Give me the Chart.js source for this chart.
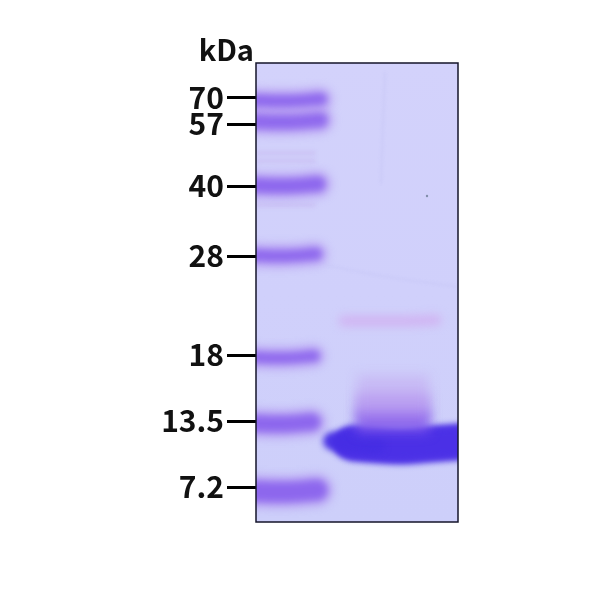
<!DOCTYPE html>
<html>
<head>
<meta charset="utf-8">
<title>SDS-PAGE gel</title>
<script src="https://cdn.jsdelivr.net/npm/chart.js@4"></script>
<style>
  html, body { margin: 0; background: #ffffff; }
  canvas { display: block; }
</style>
</head>
<body>
<canvas id="gelChart" width="600" height="595"></canvas>
<script>
// Marker ladder (travel = distance from the top of the gel)
const unitLabel = 'kDa';
const markerLabels = ['70', '57', '40', '28', '18', '13.5', '7.2'];
const markerTickTravel = [34.5, 61, 123, 193, 292, 358, 424];
const ladderTravel = [37, 58, 122, 192, 294, 360, 428];
const ladderEnd = [65, 64, 62, 60, 58, 56, 61];
const ladderStrength = [1, 0.95, 1, 1, 1, 1, 1];
const ladderThickness = [9, 12, 12, 9, 8, 14, 18];
const faintLadderTravel = [90, 98, 142];

// Sample lane
const mainBandX = [98, 125, 150, 175, 215];
const mainBandTravel = [380, 382, 383, 381, 378];
const mainTipX = [76, 95, 120];
const mainTipTravel = [378, 380, 382];
const upperBandX = [88, 120, 150, 180];
const upperBandTravel = [258, 258, 258, 257];
const smearX = [101, 135, 173];
const smearLevels = [330, 345, 358];

// Gel blemishes
const streakX = [70, 120, 202];
const streakTravel = [202, 212, 224];
const scratchX = [129, 127, 125];
const scratchTravel = [10, 60, 120];
const speckX = [171];
const speckTravel = [133];

function line(xs, ys, color, width, blur, extra) {
  return Object.assign({
    data: xs.map((x, i) => ({ x, y: ys[i] })),
    showLine: true,
    pointRadius: 0,
    borderColor: color,
    borderWidth: width,
    borderCapStyle: 'round',
    tension: 0.4,
    clip: 0,
    blur,
  }, extra || {});
}

function buildDatasets() {
  const sets = [];

  // blemishes first, so the bands sit on top
  sets.push(line(streakX, streakTravel, 'rgba(185,185,238,0.25)', 1.5, 1.5));
  sets.push(line(scratchX, scratchTravel, 'rgba(190,190,242,0.3)', 2, 1.5));

  faintLadderTravel.forEach((y) => {
    sets.push(line([2, 58], [y, y], 'rgba(180,140,225,0.22)', 4, 2));
  });

  markerLabels.forEach((_, i) => {
    const y = ladderTravel[i];
    const end = ladderEnd[i];
    const t = ladderThickness[i];
    const xs = [-12, end * 0.5, end];
    const ys = [y, y + 1, y - 1];
    sets.push(line(xs, ys, 'rgba(165,125,238,0.7)', t + 12, 5));
    sets.push(line(xs, ys, `rgba(84,50,236,${ladderStrength[i]})`, t, 3));
  });

  // smear trailing above the main band, paler the further it runs
  const smearColors = ['rgba(195,170,240,0.55)', 'rgba(165,125,236,0.7)', 'rgba(120,80,235,0.85)'];
  const smearWidths = [36, 30, 24];
  smearLevels.forEach((level, i) => {
    sets.push(line(smearX, smearX.map(() => level), smearColors[i], smearWidths[i], 6, { borderCapStyle: 'butt' }));
  });

  // upper faint band
  sets.push(line(upperBandX, upperBandTravel, 'rgba(208,178,242,0.9)', 11, 4));

  // main band: soft edge, tapered tip, then dark core
  sets.push(line(mainTipX, mainTipTravel, 'rgba(70,45,228,0.95)', 18, 3));
  sets.push(line(mainBandX.map((x) => x - 8), mainBandTravel, 'rgba(75,48,230,0.95)', 28, 3));
  sets.push(line(mainBandX, mainBandTravel, 'rgba(80,52,232,0.95)', 36, 3));
  sets.push(line(mainBandX, mainBandTravel.map((y) => y + 1), 'rgb(45,26,214)', 24, 4));

  sets.push(line(speckX, speckTravel, 'rgba(110,125,150,0.8)', 0, 0, {
    showLine: false, pointRadius: 1.2, pointBackgroundColor: 'rgba(110,125,150,0.8)', pointBorderWidth: 0,
  }));
  return sets;
}

// Per-dataset blur, gives the stained band its soft edge
const bandBlur = {
  id: 'bandBlur',
  beforeDatasetDraw(chart, args) {
    chart.ctx.save();
    const blur = args.meta.controller.getDataset().blur;
    if (blur) chart.ctx.filter = `blur(${blur}px)`;
  },
  afterDatasetDraw(chart) {
    chart.ctx.restore();
  },
};

// Gel background, frame and unit label
const gelFrame = {
  id: 'gelFrame',
  beforeDatasetsDraw(chart) {
    const { ctx, chartArea: a } = chart;
    const grad = ctx.createLinearGradient(0, a.top, 0, a.bottom);
    grad.addColorStop(0, '#d3d2fb');
    grad.addColorStop(0.5, '#d0d0fb');
    grad.addColorStop(1, '#cdcffa');
    ctx.save();
    ctx.fillStyle = grad;
    ctx.fillRect(a.left, a.top, a.right - a.left, a.bottom - a.top);
    ctx.restore();
  },
  afterDraw(chart) {
    const { ctx, chartArea: a } = chart;
    ctx.save();
    ctx.strokeStyle = '#15152a';
    ctx.lineWidth = 1.5;
    ctx.strokeRect(a.left, a.top, a.right - a.left, a.bottom - a.top);
    ctx.fillStyle = '#111111';
    ctx.font = "700 29px 'Noto Sans CJK KR'";
    ctx.textAlign = 'right';
    ctx.textBaseline = 'alphabetic';
    ctx.fillText(unitLabel, a.left - 2, a.top - 2);
    ctx.restore();
  },
};

new Chart(document.getElementById('gelChart'), {
  type: 'scatter',
  data: { datasets: buildDatasets() },
  plugins: [bandBlur, gelFrame],
  options: {
    responsive: false,
    animation: false,
    devicePixelRatio: 1,
    layout: { padding: { top: 63, right: 142, bottom: 73, left: 0 } },
    plugins: { legend: { display: false }, tooltip: { enabled: false } },
    scales: {
      x: { type: 'linear', min: 0, max: 202, display: false },
      y: {
        type: 'linear',
        reverse: true,
        min: 0,
        max: 459,
        afterFit(scale) { scale.width = 256; },
        afterBuildTicks(scale) {
          scale.ticks = markerTickTravel.map((value) => ({ value }));
        },
        border: { display: false },
        grid: {
          drawOnChartArea: false,
          tickLength: 29,
          tickColor: '#000000',
          tickWidth: 3,
        },
        ticks: {
          padding: 3,
          autoSkip: false,
          maxRotation: 0,
          color: '#111111',
          font: { family: "'Noto Sans CJK KR'", size: 30, weight: '700' },
          callback(value, index) { return markerLabels[index]; },
        },
      },
    },
  },
});
</script>
</body>
</html>
